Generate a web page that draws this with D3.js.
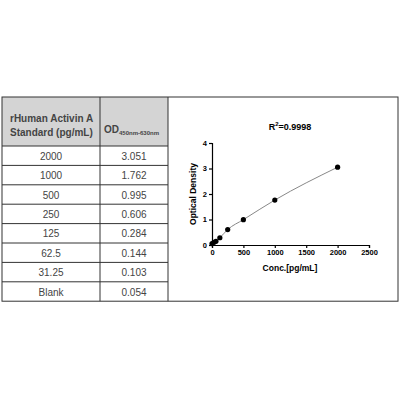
<!DOCTYPE html>
<html>
<head>
<meta charset="UTF-8">
<style>
  body { margin: 0; background: #fff; }
  text { font-family: "Liberation Sans", Arial, sans-serif; }
</style>
</head>
<body>
<svg width="400" height="400"></svg>
<script src="https://cdn.jsdelivr.net/npm/d3@7"></script>
<script>
  // data
  const standards = ["2000", "1000", "500", "250", "125", "62.5", "31.25", "Blank"];
  const concValues = [2000, 1000, 500, 250, 125, 62.5, 31.25, 0];
  const odValues = [3.051, 1.762, 0.995, 0.606, 0.284, 0.144, 0.103, 0.054];
  const xTicks = [0, 500, 1000, 1500, 2000, 2500];
  const yTicks = [0, 1, 2, 3, 4];

  const svg = d3.select("svg");

  // ---- table ----
  const tx0 = 2, tx1 = 100, tx2 = 168, ty0 = 97, headH = 49, rowH = 19.4;
  const tbl = svg.append("g");
  tbl.append("rect").attr("x", tx0).attr("y", ty0).attr("width", tx2 - tx0).attr("height", headH)
    .attr("fill", "#d4d4d4");
  const tableBottom = ty0 + headH + rowH * standards.length;
  tbl.append("rect").attr("x", tx0).attr("y", ty0).attr("width", 398 - tx0).attr("height", tableBottom - ty0)
    .attr("fill", "none").attr("stroke", "#333").attr("stroke-width", 1);
  [tx1, tx2].forEach(x => tbl.append("line").attr("x1", x).attr("x2", x).attr("y1", ty0).attr("y2", tableBottom)
    .attr("stroke", "#333"));
  for (let i = 0; i < standards.length; i++) {
    const y = ty0 + headH + i * rowH;
    tbl.append("line").attr("x1", tx0).attr("x2", tx2).attr("y1", y).attr("y2", y).attr("stroke", "#333");
    tbl.append("text").attr("x", (tx0 + tx1) / 2).attr("y", y + rowH / 2 + 4).attr("text-anchor", "middle")
      .attr("font-size", 10).attr("fill", "#444").text(standards[i]);
    tbl.append("text").attr("x", (tx1 + tx2) / 2).attr("y", y + rowH / 2 + 4).attr("text-anchor", "middle")
      .attr("font-size", 10).attr("fill", "#444").text(odValues[i].toFixed(3));
  }
  tbl.append("text").attr("x", 10).attr("y", 122).attr("font-size", 10).attr("font-weight", "bold")
    .attr("fill", "#444").text("rHuman Activin A");
  tbl.append("text").attr("x", 10).attr("y", 136).attr("font-size", 10).attr("font-weight", "bold")
    .attr("fill", "#444").text("Standard (pg/mL)");
  const od = tbl.append("text").attr("x", 104).attr("y", 133).attr("font-size", 10).attr("font-weight", "bold")
    .attr("fill", "#444");
  od.append("tspan").text("OD");
  od.append("tspan").attr("font-size", 6).attr("dy", 2).text("450nm-630nm");

  // ---- chart ----
  const x = d3.scaleLinear().domain([0, 2500]).range([212, 369]);
  const y = d3.scaleLinear().domain([0, 4]).range([245, 143]);

  const g = svg.append("g");
  g.append("g").attr("transform", "translate(0,245)")
    .call(d3.axisBottom(x).tickValues(xTicks).tickFormat(d3.format("d")).tickSize(3).tickPadding(2))
    .call(a => a.selectAll("text").attr("font-size", 7.5).attr("font-weight", "bold"));
  g.append("g").attr("transform", "translate(212,0)")
    .call(d3.axisLeft(y).tickValues(yTicks).tickFormat(d3.format("d")).tickSize(3).tickPadding(2))
    .call(a => a.selectAll("text").attr("font-size", 7.5).attr("font-weight", "bold"));
  g.selectAll(".domain, .tick line").attr("stroke", "#000").attr("stroke-width", 1.2);

  const pts = concValues.map((c, i) => ({ c, v: odValues[i] })).sort((a, b) => a.c - b.c);
  g.append("path").datum(pts)
    .attr("d", d3.line().x(d => x(d.c)).y(d => y(d.v)).curve(d3.curveMonotoneX))
    .attr("fill", "none").attr("stroke", "#888").attr("stroke-width", 1);
  g.selectAll("circle").data(pts).enter().append("circle")
    .attr("cx", d => x(d.c)).attr("cy", d => y(d.v)).attr("r", 2.6).attr("fill", "#000");

  const t = g.append("text").attr("x", 290).attr("y", 130).attr("text-anchor", "middle")
    .attr("font-size", 9).attr("font-weight", "bold");
  t.append("tspan").text("R");
  t.append("tspan").attr("font-size", 6).attr("dy", -4).text("2");
  t.append("tspan").attr("dy", 4).text("=0.9998");

  g.append("text").attr("x", 290).attr("y", 271).attr("text-anchor", "middle")
    .attr("font-size", 8.5).attr("font-weight", "bold").text("Conc.[pg/mL]");
  g.append("text").attr("transform", "translate(196,194) rotate(-90)").attr("text-anchor", "middle")
    .attr("font-size", 8.5).attr("font-weight", "bold").text("Optical Density");
</script>
</body>
</html>
